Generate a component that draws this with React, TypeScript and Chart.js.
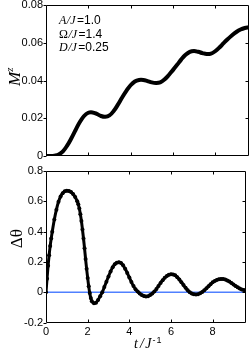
import { useEffect, useRef } from "react";
import { Chart, registerables } from "chart.js";

Chart.register(...registerables);

// ---- data ----
const tM = [0, 0.2, 0.4, 0.6, 0.8, 1.0, 1.2, 1.4, 1.6, 1.8, 2.0, 2.2, 2.4, 2.6, 2.8, 3.0, 3.2, 3.4, 3.6, 3.8, 4.0, 4.2, 4.4, 4.6, 4.8, 5.0, 5.2, 5.4, 5.6, 5.8, 6.0, 6.2, 6.4, 6.6, 6.8, 7.0, 7.2, 7.4, 7.6, 7.8, 8.0, 8.2, 8.4, 8.6, 8.8, 9.0, 9.2, 9.4, 9.6];
const mz = [0, 0, 0.0002, 0.0008, 0.0025, 0.0055, 0.0094, 0.0138, 0.018, 0.0212, 0.0229, 0.0231, 0.0223, 0.0212, 0.0208, 0.0215, 0.0238, 0.0272, 0.031, 0.0345, 0.0375, 0.0395, 0.0403, 0.0403, 0.0397, 0.039, 0.0387, 0.039, 0.0405, 0.0428, 0.0455, 0.0483, 0.0512, 0.0536, 0.0552, 0.0556, 0.0552, 0.0545, 0.054, 0.0542, 0.0555, 0.0575, 0.0598, 0.062, 0.064, 0.0657, 0.067, 0.0678, 0.0682];

const tD = [0, 0.05, 0.1, 0.15, 0.2, 0.25, 0.3, 0.4, 0.5, 0.6, 0.7, 0.8, 0.9, 1.0, 1.1, 1.2, 1.3, 1.4, 1.5, 1.55, 1.6, 1.65, 1.7, 1.75, 1.8, 1.85, 1.9, 1.95, 2.0, 2.05, 2.1, 2.15, 2.2, 2.3, 2.4, 2.5, 2.6, 2.7, 2.8, 2.9, 3.0, 3.1, 3.2, 3.3, 3.4, 3.5, 3.6, 3.7, 3.8, 3.9, 4.0, 4.1, 4.2, 4.3, 4.4, 4.5, 4.6, 4.7, 4.8, 4.9, 5.0, 5.1, 5.2, 5.3, 5.4, 5.5, 5.6, 5.7, 5.8, 5.9, 6.0, 6.1, 6.2, 6.3, 6.4, 6.5, 6.6, 6.7, 6.8, 6.9, 7.0, 7.1, 7.2, 7.3, 7.4, 7.5, 7.6, 7.7, 7.8, 7.9, 8.0, 8.1, 8.2, 8.3, 8.4, 8.5, 8.6, 8.7, 8.8, 8.9, 9.0, 9.1, 9.2, 9.3, 9.4, 9.5, 9.6];
const dTheta = [0, 0.09, 0.175, 0.245, 0.305, 0.355, 0.4, 0.48, 0.545, 0.597, 0.632, 0.654, 0.666, 0.67, 0.668, 0.662, 0.648, 0.628, 0.6, 0.58, 0.553, 0.515, 0.47, 0.415, 0.355, 0.29, 0.22, 0.155, 0.095, 0.04, -0.005, -0.038, -0.058, -0.071, -0.068, -0.05, -0.025, 0.0, 0.035, 0.07, 0.105, 0.138, 0.165, 0.185, 0.196, 0.198, 0.193, 0.178, 0.155, 0.128, 0.098, 0.068, 0.042, 0.02, 0.005, -0.008, -0.018, -0.024, -0.027, -0.025, -0.018, -0.008, 0.005, 0.022, 0.042, 0.062, 0.08, 0.096, 0.108, 0.116, 0.119, 0.118, 0.112, 0.1, 0.085, 0.067, 0.048, 0.03, 0.014, 0.001, -0.008, -0.013, -0.014, -0.012, -0.006, 0.003, 0.014, 0.027, 0.041, 0.054, 0.066, 0.075, 0.082, 0.086, 0.088, 0.088, 0.085, 0.079, 0.071, 0.062, 0.052, 0.042, 0.033, 0.025, 0.019, 0.015, 0.012];

const zeroT = [0, 9.6];
const zeroV = [0, 0];

const xTicks = [0, 2, 4, 6, 8];
const xTickLabels = ["0", "2", "4", "6", "8"];
const yTicksTop = [0, 0.02, 0.04, 0.06, 0.08];
const yTickLabelsTop = ["0", "0.02", "0.04", "0.06", "0.08"];
const yTicksBot = [-0.2, 0, 0.2, 0.4, 0.6, 0.8];
const yTickLabelsBot = ["-0.2", "0", "0.2", "0.4", "0.6", "0.8"];

const paramNames = ["A/J", "Ω/J", "D/J"];
const paramValues = ["1.0", "1.4", "0.25"];

const SANS = "'Liberation Sans', Arial, sans-serif";
const SERIF = "'Liberation Serif', 'Times New Roman', serif";

function framePlugin(xt: number[], yt: number[]) {
  return {
    id: "frame",
    afterDatasetsDraw(chart: any) {
      const { ctx, chartArea: a } = chart;
      const xs = chart.scales.x;
      const ys = chart.scales.y;
      const L = Math.floor(a.left) + 0.5;
      const R = Math.ceil(a.right) - 0.5;
      const T = Math.floor(a.top) + 0.5;
      const B = Math.ceil(a.bottom) - 0.5;
      ctx.save();
      ctx.strokeStyle = "#000";
      ctx.lineWidth = 1;
      ctx.beginPath();
      ctx.rect(L, T, R - L, B - T);
      for (const v of xt) {
        if (v <= xs.min || v >= xs.max) continue;
        const p = Math.round(xs.getPixelForValue(v)) + 0.5;
        ctx.moveTo(p, B);
        ctx.lineTo(p, B - 3);
        ctx.moveTo(p, T);
        ctx.lineTo(p, T + 3);
      }
      for (const v of yt) {
        const p = Math.round(ys.getPixelForValue(v)) + 0.5;
        ctx.moveTo(L, p);
        ctx.lineTo(L - 3, p);
        if (v > ys.min && v < ys.max) {
          ctx.moveTo(R, p);
          ctx.lineTo(R - 3, p);
        }
      }
      ctx.stroke();
      ctx.restore();
    },
  };
}

type Part = { t: string; f: string; dy?: number; gap?: number };
function drawParts(ctx: CanvasRenderingContext2D, x: number, y: number, parts: Part[]) {
  for (const p of parts) {
    ctx.font = p.f;
    ctx.fillText(p.t, x, y + (p.dy || 0));
    x += ctx.measureText(p.t).width + (p.gap || 0);
  }
}

const topText = {
  id: "topText",
  afterDraw(chart: any) {
    const ctx: CanvasRenderingContext2D = chart.ctx;
    ctx.save();
    ctx.fillStyle = "#000";
    ctx.textBaseline = "alphabetic";
    ctx.textAlign = "left";
    const baselines = [24, 37.5, 51];
    paramNames.forEach((name, i) => {
      const head = name.charAt(0);
      const rest = name.slice(1);
      const headFont = head === "Ω" ? `12px ${SERIF}` : `italic 12px ${SERIF}`;
      drawParts(ctx, 59, baselines[i], [
        { t: head, f: headFont, gap: 0.5 },
        { t: rest, f: `italic 12px ${SERIF}`, gap: 1.5 },
        { t: "=", f: `12px ${SANS}` },
        { t: paramValues[i], f: `12px ${SANS}` },
      ]);
    });
    // y title M^z
    ctx.translate(20, 86);
    ctx.rotate(-Math.PI / 2);
    drawParts(ctx, 0, 0, [
      { t: "M", f: `italic 17px ${SERIF}` },
      { t: "z", f: `italic 11px ${SERIF}`, dy: -7 },
    ]);
    ctx.restore();
  },
};

const botText = {
  id: "botText",
  afterDraw(chart: any) {
    const ctx: CanvasRenderingContext2D = chart.ctx;
    ctx.save();
    ctx.fillStyle = "#000";
    ctx.textBaseline = "alphabetic";
    ctx.textAlign = "left";
    drawParts(ctx, 134, 188, [
      { t: "t", f: `italic 14px ${SERIF}`, gap: 2 },
      { t: "/", f: `italic 14px ${SERIF}`, gap: 1.5 },
      { t: "J", f: `italic 14px ${SERIF}`, gap: 1 },
      { t: "-", f: `9px ${SANS}`, dy: -5, gap: 1 },
      { t: "1", f: `9px ${SANS}`, dy: -5 },
    ]);
    ctx.translate(21.5, 88.3);
    ctx.rotate(-Math.PI / 2);
    drawParts(ctx, 0, 0, [{ t: "Δθ", f: `17px ${SERIF}` }]);
    ctx.restore();
  },
};

function yAfterFit(s: any) {
  s.width = 46;
  s.paddingTop = 0;
  s.paddingBottom = 0;
}

export default function App() {
  const topRef = useRef<HTMLCanvasElement>(null);
  const botRef = useRef<HTMLCanvasElement>(null);

  useEffect(() => {
    const tickFont = { family: SANS, size: 11 };
    const c1 = new Chart(topRef.current!, {
      type: "line",
      data: {
        datasets: [
          {
            data: tM.map((t, i) => ({ x: t, y: mz[i] })),
            borderColor: "#000",
            borderWidth: 4,
            pointRadius: 0,
            tension: 0.4,
            fill: false,
          },
        ],
      },
      options: {
        responsive: false,
        animation: false,
        layout: { padding: { left: 0, right: 1, top: 5, bottom: 4 } },
        plugins: { legend: { display: false }, tooltip: { enabled: false } },
        scales: {
          x: { type: "linear", min: 0, max: 9.6, display: false },
          y: {
            type: "linear",
            min: 0,
            max: 0.08,
            grid: { display: false, drawTicks: false },
            border: { display: false },
            afterBuildTicks: (s: any) => {
              s.ticks = yTicksTop.map((v) => ({ value: v }));
            },
            afterFit: yAfterFit,
            ticks: {
              padding: 3,
              color: "#000",
              font: tickFont,
              callback: (v: any) => yTickLabelsTop[yTicksTop.indexOf(v)],
            },
          },
        },
      } as any,
      plugins: [framePlugin(xTicks, yTicksTop), topText],
    });

    const c2 = new Chart(botRef.current!, {
      type: "line",
      data: {
        datasets: [
          {
            data: tD.map((t, i) => ({ x: t, y: dTheta[i] })),
            borderColor: "#000",
            borderWidth: 3,
            pointRadius: 2,
            pointBackgroundColor: "#000",
            pointBorderWidth: 0,
            tension: 0.3,
            fill: false,
            order: 1,
          },
          {
            data: zeroT.map((t, i) => ({ x: t, y: zeroV[i] })),
            borderColor: "#5080ff",
            borderWidth: 1.5,
            pointRadius: 0,
            fill: false,
            order: 2,
          },
        ],
      },
      options: {
        responsive: false,
        animation: false,
        layout: { padding: { left: 0, right: 1, top: 11, bottom: 17.3 } },
        plugins: { legend: { display: false }, tooltip: { enabled: false } },
        scales: {
          x: {
            type: "linear",
            min: 0,
            max: 9.6,
            grid: { display: false, drawTicks: false },
            border: { display: false },
            afterBuildTicks: (s: any) => {
              s.ticks = xTicks.map((v) => ({ value: v }));
            },
            afterFit: (s: any) => {
              s.height = 16;
              s.paddingLeft = 0;
              s.paddingRight = 0;
            },
            ticks: {
              padding: 3,
              color: "#000",
              font: tickFont,
              maxRotation: 0,
              callback: (v: any) => xTickLabels[xTicks.indexOf(v)],
            },
          },
          y: {
            type: "linear",
            min: -0.2,
            max: 0.8,
            grid: { display: false, drawTicks: false },
            border: { display: false },
            afterBuildTicks: (s: any) => {
              s.ticks = yTicksBot.map((v) => ({ value: v }));
            },
            afterFit: yAfterFit,
            ticks: {
              padding: 3,
              color: "#000",
              font: tickFont,
              callback: (v: any) => yTickLabelsBot[yTicksBot.indexOf(v)],
            },
          },
        },
      } as any,
      plugins: [framePlugin(xTicks, yTicksBot), botText],
    });

    return () => {
      c1.destroy();
      c2.destroy();
    };
  }, []);

  return (
    <div style={{ position: "fixed", left: 0, top: 0, width: 250, height: 356, background: "#fff" }}>
      <canvas ref={topRef} width={250} height={160} style={{ position: "absolute", left: 0, top: 0 }} />
      <canvas ref={botRef} width={250} height={196} style={{ position: "absolute", left: 0, top: 160 }} />
    </div>
  );
}
